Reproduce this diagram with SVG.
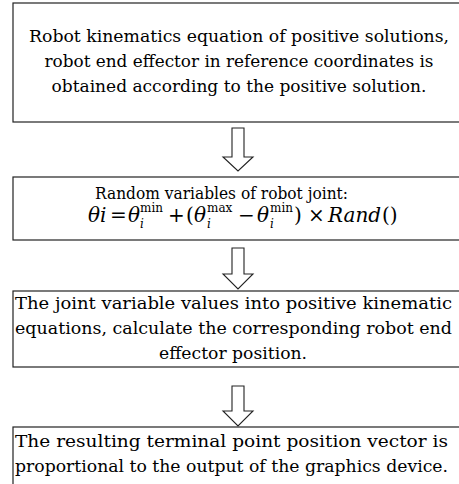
<svg xmlns="http://www.w3.org/2000/svg" width="459" height="484" viewBox="0 0 459 484">
<style>
.box{fill:#fff;stroke:#222;stroke-width:1.2}
.arr{fill:#fff;stroke:#222;stroke-width:1.1;stroke-linejoin:miter}
.t{font-family:'DejaVu Serif', 'Liberation Serif', serif;fill:#000;font-size:17.5px}
.c{text-anchor:middle}
.it{font-style:italic}
.sc{font-size:12px}
</style>
<rect width="459" height="484" fill="#fff"/>
<g id="connectors">
<polygon class="arr" points="232,128 244,128 244,157 253,157 238,171 223,157 232,157"/>
<polygon class="arr" points="232,248 244,248 244,274 253,274 238,289 223,274 232,274"/>
<polygon class="arr" points="232,386 244,386 244,411 253,411 238,426 223,411 232,411"/>
</g>
<g id="node1">
<rect class="box" x="13" y="3" width="447" height="119"/>
<text class="t c" x="239" y="42" textLength="420" lengthAdjust="spacingAndGlyphs">Robot kinematics equation of positive solutions,</text>
<text class="t c" x="239" y="67" textLength="389" lengthAdjust="spacingAndGlyphs">robot end effector in reference coordinates is</text>
<text class="t c" x="239" y="92" textLength="375" lengthAdjust="spacingAndGlyphs">obtained according to the positive solution.</text>
</g>
<g id="node2">
<rect class="box" x="13" y="177" width="447" height="63"/>
<text class="t" x="95" y="199" textLength="253" lengthAdjust="spacingAndGlyphs">Random variables of robot joint:</text>
<text class="t" y="222" style="font-size:20px"><tspan class="it" x="88">θ</tspan><tspan class="it" x="100">i</tspan><tspan x="110">=</tspan><tspan class="it" x="128">θ</tspan><tspan class="sc" x="140" y="212">min</tspan><tspan class="sc it" x="140" y="228">i</tspan><tspan x="168" y="222">+</tspan><tspan x="186">(</tspan><tspan class="it" x="194">θ</tspan><tspan class="sc" x="207" y="212">max</tspan><tspan class="sc it" x="207" y="228">i</tspan><tspan x="238" y="222">−</tspan><tspan class="it" x="257">θ</tspan><tspan class="sc" x="270" y="212">min</tspan><tspan class="sc it" x="270" y="228">i</tspan><tspan x="294" y="222">)</tspan><tspan x="308">×</tspan><tspan class="it" x="328">Rand</tspan><tspan x="382">()</tspan></text>
</g>
<g id="node3">
<rect class="box" x="13" y="291" width="447" height="76"/>
<text class="t" x="15" y="309" textLength="437" lengthAdjust="spacingAndGlyphs">The joint variable values into positive kinematic</text>
<text class="t" x="15" y="334" textLength="437" lengthAdjust="spacingAndGlyphs">equations, calculate the corresponding robot end</text>
<text class="t c" x="233" y="359" textLength="148" lengthAdjust="spacingAndGlyphs">effector position.</text>
</g>
<g id="node4">
<rect class="box" x="13" y="427" width="447" height="80"/>
<text class="t" x="15" y="447" textLength="433" lengthAdjust="spacingAndGlyphs">The resulting terminal point position vector is</text>
<text class="t" x="15" y="472" textLength="433" lengthAdjust="spacingAndGlyphs">proportional to the output of the graphics device.</text>
</g>
</svg>
